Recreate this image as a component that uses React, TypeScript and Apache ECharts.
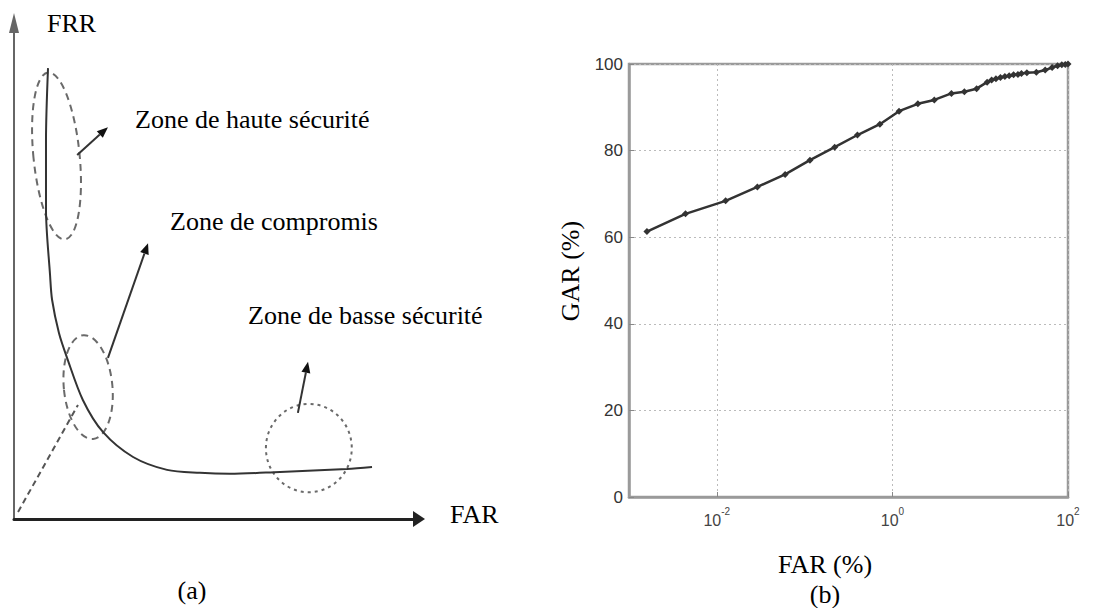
import React, { useEffect, useRef } from 'react';
import * as echarts from 'echarts';

// ---------- Panel (a): schematic FRR vs FAR (abstract 0-100 units) ----------
const curveFAR = [8.4, 7.9, 7.9, 8.9, 9.4, 11.1, 13.1, 17.0, 22.0, 29.4, 37.8, 45.9, 53.3, 65.7, 82.2, 88.4];
const curveFRR = [90.9, 76.4, 62.3, 49.2, 44.2, 37.5, 32.5, 24.0, 17.5, 12.5, 9.9, 9.3, 9.1, 9.5, 10.1, 10.5];
const eerLineFAR = [1.0, 15.8];
const eerLineFRR = [1.4, 23.0];
const zoneNames = ['Zone de haute sécurité', 'Zone de compromis', 'Zone de basse sécurité'];
const zoneCenterFAR = [10.5, 18.3, 72.8];
const zoneCenterFRR = [73.2, 26.6, 14.3];
const zoneHalfWidth = [5.7, 6.0, 10.6];
const zoneHalfHeight = [16.9, 10.5, 8.9];
const zoneTilt = [0.1, 0.096, 0];
const pointerFromFAR = [15.6, 23.2, 70.1];
const pointerFromFRR = [73.4, 32.5, 21.4];
const pointerToFAR = [23.2, 33.1, 72.6];
const pointerToFRR = [79.0, 55.6, 31.7];

// ---------- Panel (b): ROC curve, GAR (%) vs FAR (%) on log scale ----------
const rocFAR = [
  0.0016, 0.0044, 0.0126, 0.029, 0.06, 0.115, 0.22, 0.4, 0.72, 1.19, 1.95, 3.0, 4.7, 6.6, 9.1, 12.0,
  13.5, 15.1, 17.0, 19.1, 21.4, 24.0, 26.9, 29.5, 34.0, 43.6, 55.0, 66.0, 76.0, 85.0, 93.0, 100.0,
];
const rocGAR = [
  61.3, 65.4, 68.4, 71.6, 74.5, 77.8, 80.8, 83.6, 86.1, 89.1, 90.8, 91.7, 93.2, 93.6, 94.3, 95.8,
  96.3, 96.6, 96.9, 97.1, 97.3, 97.5, 97.6, 97.8, 98.0, 98.1, 98.6, 99.2, 99.6, 99.8, 99.9, 100.0,
];
const farTickValues = [0.01, 1, 100];
const garMin = 0;
const garMax = 100;
const garStep = 20;

const SERIF = '"Liberation Serif", "Times New Roman", serif';
const SANS = '"Liberation Sans", Arial, sans-serif';

export default function App() {
  const ref = useRef<HTMLDivElement>(null);

  useEffect(() => {
    if (!ref.current) return;
    const chart = echarts.init(ref.current, undefined, { renderer: 'svg' });

    const dashStyles = [
      [7, 5],
      [7, 5],
      [3, 4],
    ];

    const option: any = {
      animation: false,
      backgroundColor: '#ffffff',
      grid: [
        { left: 14, top: 23, width: 405, height: 496, show: false },
        {
          left: 629,
          top: 64,
          width: 439,
          height: 433,
          show: true,
          borderColor: '#9a9a9a',
          borderWidth: 2.5,
          backgroundColor: 'transparent',
        },
      ],
      xAxis: [
        {
          gridIndex: 0,
          type: 'value',
          min: 0,
          max: 100,
          axisLine: {
            show: true,
            symbol: ['none', 'triangle'],
            symbolSize: [16, 12],
            lineStyle: { color: '#222', width: 3 },
          },
          axisTick: { show: false },
          axisLabel: { show: false },
          splitLine: { show: false },
        },
        {
          gridIndex: 1,
          type: 'log',
          logBase: 10,
          min: 0.001,
          max: 100,
          axisLine: { show: true, lineStyle: { color: '#9a9a9a', width: 2.5 } },
          axisTick: {
            show: true,
            inside: true,
            length: 5,
            customValues: farTickValues,
            lineStyle: { color: '#888' },
          },
          axisLabel: {
            customValues: farTickValues,
            margin: 9,
            formatter: (v: number) => {
              const e = Math.round(Math.log10(v));
              return '{b|10}{s|' + e + '}';
            },
            rich: {
              b: { fontSize: 16, fontFamily: SANS, color: '#444', verticalAlign: 'bottom', lineHeight: 22 },
              s: { fontSize: 10, fontFamily: SANS, color: '#444', verticalAlign: 'top', lineHeight: 22 },
            },
          },
          splitLine: {
            show: true,
            lineStyle: { color: '#bbb', width: 1, type: [2, 3] },
          },
        },
      ],
      yAxis: [
        {
          gridIndex: 0,
          type: 'value',
          min: 0,
          max: 100,
          axisLine: {
            show: true,
            symbol: ['none', 'triangle'],
            symbolSize: [10, 20],
            lineStyle: { color: '#666', width: 2 },
          },
          axisTick: { show: false },
          axisLabel: { show: false },
          splitLine: { show: false },
        },
        {
          gridIndex: 1,
          type: 'value',
          min: garMin,
          max: garMax,
          interval: garStep,
          axisLine: { show: true, lineStyle: { color: '#9a9a9a', width: 2.5 } },
          axisTick: { show: true, inside: true, length: 5, lineStyle: { color: '#888' } },
          axisLabel: { fontSize: 17, fontFamily: SANS, color: '#333', margin: 6 },
          splitLine: {
            show: true,
            lineStyle: { color: '#bbb', width: 1, type: [2, 3] },
          },
        },
      ],
      series: [
        {
          type: 'line',
          xAxisIndex: 0,
          yAxisIndex: 0,
          data: curveFAR.map((x, i) => [x, curveFRR[i]]),
          smooth: 0.3,
          symbol: 'none',
          lineStyle: { color: '#333', width: 2 },
          silent: true,
        },
        {
          type: 'line',
          xAxisIndex: 0,
          yAxisIndex: 0,
          data: eerLineFAR.map((x, i) => [x, eerLineFRR[i]]),
          symbol: 'none',
          lineStyle: { color: '#555', width: 2, type: [6, 4] },
          silent: true,
        },
        {
          type: 'custom',
          xAxisIndex: 0,
          yAxisIndex: 0,
          silent: true,
          clip: false,
          data: zoneCenterFAR.map((x, i) => [x, zoneCenterFRR[i], zoneHalfWidth[i], zoneHalfHeight[i], zoneTilt[i]]),
          encode: { x: 0, y: 1 },
          renderItem: (params: any, api: any) => {
            const c = api.coord([api.value(0), api.value(1)]);
            const s = api.size([api.value(2), api.value(3)]);
            return {
              type: 'ellipse',
              x: c[0],
              y: c[1],
              rotation: api.value(4),
              shape: { cx: 0, cy: 0, rx: s[0], ry: s[1] },
              style: {
                fill: 'none',
                stroke: '#6a6a6a',
                lineWidth: 2,
                lineDash: dashStyles[params.dataIndex],
              },
            };
          },
        },
        {
          type: 'custom',
          xAxisIndex: 0,
          yAxisIndex: 0,
          silent: true,
          clip: false,
          data: pointerFromFAR.map((x, i) => [x, pointerFromFRR[i], pointerToFAR[i], pointerToFRR[i]]),
          encode: { x: [0, 2], y: [1, 3] },
          renderItem: (params: any, api: any) => {
            const p1 = api.coord([api.value(0), api.value(1)]);
            const p2 = api.coord([api.value(2), api.value(3)]);
            const dx = p2[0] - p1[0];
            const dy = p2[1] - p1[1];
            const len = Math.sqrt(dx * dx + dy * dy);
            const ux = dx / len;
            const uy = dy / len;
            const hl = 11;
            const hw = 4.5;
            const bx = p2[0] - ux * hl;
            const by = p2[1] - uy * hl;
            return {
              type: 'group',
              children: [
                {
                  type: 'line',
                  shape: { x1: p1[0], y1: p1[1], x2: bx, y2: by },
                  style: { stroke: '#333', lineWidth: 2 },
                },
                {
                  type: 'polygon',
                  shape: {
                    points: [
                      [p2[0], p2[1]],
                      [bx - uy * hw, by + ux * hw],
                      [bx + uy * hw, by - ux * hw],
                    ],
                  },
                  style: { fill: '#111' },
                },
              ],
            };
          },
        },
        {
          type: 'line',
          xAxisIndex: 1,
          yAxisIndex: 1,
          data: rocFAR.map((x, i) => [x, rocGAR[i]]),
          symbol: 'diamond',
          symbolSize: 7,
          itemStyle: { color: '#333' },
          lineStyle: { color: '#333', width: 2.5 },
          silent: true,
        },
      ],
      graphic: [
        { type: 'text', left: 47, top: 10, style: { text: 'FRR', font: `26px ${SERIF}`, fill: '#000' } },
        { type: 'text', left: 450, top: 501, style: { text: 'FAR', font: `26px ${SERIF}`, fill: '#000' } },
        { type: 'text', left: 135, top: 106, style: { text: zoneNames[0], font: `26px ${SERIF}`, fill: '#000' } },
        { type: 'text', left: 170, top: 208, style: { text: zoneNames[1], font: `26px ${SERIF}`, fill: '#000' } },
        { type: 'text', left: 248, top: 302, style: { text: zoneNames[2], font: `26px ${SERIF}`, fill: '#000' } },
        {
          type: 'text',
          x: 192,
          y: 590,
          style: { text: '(a)', font: `26px ${SERIF}`, fill: '#000', textAlign: 'center', textVerticalAlign: 'middle' },
        },
        {
          type: 'text',
          x: 825,
          y: 564,
          style: { text: 'FAR (%)', font: `26px ${SERIF}`, fill: '#000', textAlign: 'center', textVerticalAlign: 'middle' },
        },
        {
          type: 'text',
          x: 825,
          y: 594,
          style: { text: '(b)', font: `26px ${SERIF}`, fill: '#000', textAlign: 'center', textVerticalAlign: 'middle' },
        },
        {
          type: 'text',
          x: 570,
          y: 271,
          rotation: Math.PI / 2,
          style: { text: 'GAR (%)', font: `26px ${SERIF}`, fill: '#000', textAlign: 'center', textVerticalAlign: 'middle' },
        },
      ],
    };

    chart.setOption(option);
    return () => chart.dispose();
  }, []);

  return <div ref={ref} style={{ position: 'fixed', left: 0, top: 0, width: 1095, height: 608 }} />;
}
